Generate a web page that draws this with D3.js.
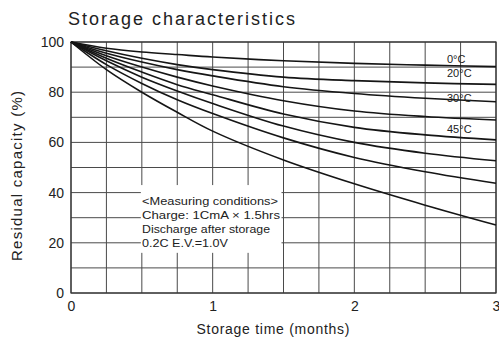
<!DOCTYPE html>
<html>
<head>
<meta charset="utf-8">
<script src="https://cdn.jsdelivr.net/npm/d3@7"></script>
<style>
  html, body { margin: 0; padding: 0; background: #fff; }
  svg { display: block; }
  text { font-family: "Liberation Sans", Arial, Helvetica, sans-serif; fill: #222; }
</style>
</head>
<body>
<svg id="chart" width="499" height="345"></svg>
<script>
// ---- data ----
const months = [0, 0.25, 0.5, 0.75, 1, 1.5, 2, 2.5, 3];
const curve1 = [100, 97.5, 96, 95, 94, 92.5, 91.5, 90.8, 90.2];
const curve2 = [100, 96.5, 93.5, 91, 89, 86, 84.6, 83.7, 83.1];
const curve3 = [100, 95.5, 92, 89, 86.5, 82.2, 79.5, 77.6, 76.2];
const curve4 = [100, 94.5, 90, 86, 82.5, 76.6, 72.5, 70.3, 68.9];
const curve5 = [100, 93.5, 88, 83, 79, 71.3, 66, 63, 61];
const curve6 = [100, 92.5, 86, 80.5, 75.5, 66.5, 60, 55.7, 52.7];
const curve7 = [100, 91, 83.5, 77, 71.5, 61.8, 54, 48.3, 43.7];
const curve8 = [100, 89, 80, 72, 64.5, 53, 43.5, 35, 27.1];
const xTicks = [0, 1, 2, 3];
const yTicks = [0, 20, 40, 60, 80, 100];
const tempLabels = ["0°C", "20°C", "30°C", "45°C"];
const noteLines = ["<Measuring conditions>", "Charge: 1CmA \u00d7 1.5hrs", "Discharge after storage", "0.2C E.V.=1.0V"];

const series = [curve1, curve2, curve3, curve4, curve5, curve6, curve7, curve8];

// ---- layout ----
const svg = d3.select("#chart");
const x = d3.scaleLinear().domain([0, 3]).range([71, 496]);
const y = d3.scaleLinear().domain([0, 100]).range([293, 42]);

const gridColor = "#4a4a4a";

// grid
const g = svg.append("g");
g.selectAll("line.v").data(d3.range(0, 3.0001, 0.25)).join("line")
  .attr("x1", d => x(d)).attr("x2", d => x(d))
  .attr("y1", y(0)).attr("y2", y(100))
  .attr("stroke", gridColor).attr("stroke-width", 1);
g.selectAll("line.h").data(d3.range(0, 100.001, 10)).join("line")
  .attr("y1", d => y(d)).attr("y2", d => y(d))
  .attr("x1", x(0)).attr("x2", x(3))
  .attr("stroke", gridColor).attr("stroke-width", 1);

// white note box covering grid
svg.append("rect")
  .attr("x", x(0.5) - 1).attr("y", y(43))
  .attr("width", x(1.5) - x(0.5) - 1).attr("height", y(16) - y(43))
  .attr("fill", "#fff");

// frame
svg.append("rect")
  .attr("x", x(0)).attr("y", y(100))
  .attr("width", x(3) - x(0)).attr("height", y(0) - y(100))
  .attr("fill", "none").attr("stroke", "#333").attr("stroke-width", 1.2);

// curves
const line = d3.line()
  .x((d, i) => x(months[i]))
  .y(d => y(d))
  .curve(d3.curveCatmullRom.alpha(0.5));
svg.append("g").selectAll("path").data(series).join("path")
  .attr("d", d => line(d))
  .attr("fill", "none").attr("stroke", "#151515").attr("stroke-width", 1.6);

// axes (ticks as text only)
const xAxis = d3.axisBottom(x).tickValues(xTicks).tickSize(0).tickPadding(8).tickFormat(d3.format("d"));
const xg = svg.append("g").attr("transform", `translate(0,${y(0)})`).call(xAxis);
xg.select(".domain").remove();
xg.selectAll("text").attr("font-size", 14).attr("fill", "#222")
  .style("font-family", '"Liberation Sans", Arial, sans-serif');

const yAxis = d3.axisLeft(y).tickValues(yTicks).tickSize(0).tickPadding(7).tickFormat(d3.format("d"));
const yg = svg.append("g").attr("transform", `translate(${x(0)},0)`).call(yAxis);
yg.select(".domain").remove();
yg.selectAll("text").attr("font-size", 14).attr("fill", "#222")
  .style("font-family", '"Liberation Sans", Arial, sans-serif');

// title
svg.append("text")
  .attr("x", 68).attr("y", 25)
  .attr("font-size", 18)
  .attr("textLength", 227).attr("lengthAdjust", "spacing")
  .text("Storage characteristics");

// axis titles
svg.append("text")
  .attr("x", 273).attr("y", 334)
  .attr("text-anchor", "middle")
  .attr("font-size", 14)
  .attr("textLength", 153).attr("lengthAdjust", "spacing")
  .text("Storage time (months)");

svg.append("text")
  .attr("transform", "translate(22,176) rotate(-90)")
  .attr("text-anchor", "middle")
  .attr("font-size", 15)
  .attr("textLength", 170).attr("lengthAdjust", "spacing")
  .text("Residual capacity (%)");

// temperature labels
const tempAnchor = [91.6, 86.2, 76.2, 63.7];
svg.append("g").selectAll("text").data(tempLabels).join("text")
  .attr("x", 447).attr("y", (d, i) => y(tempAnchor[i]))
  .attr("font-size", 11)
  .text(d => d);

// note
const noteLen = [136, 138, 128, 86];
svg.append("g").selectAll("text").data(noteLines).join("text")
  .attr("x", 142).attr("y", (d, i) => 205 + i * 14)
  .attr("font-size", 10.5)
  .attr("textLength", (d, i) => noteLen[i]).attr("lengthAdjust", "spacingAndGlyphs")
  .text(d => d);
</script>
</body>
</html>
